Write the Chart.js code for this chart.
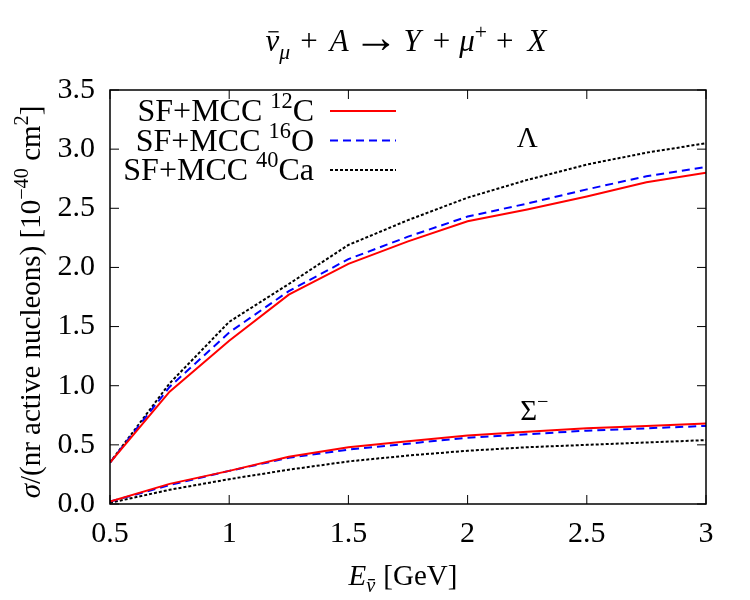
<!DOCTYPE html>
<html>
<head>
<meta charset="utf-8">
<script src="https://cdn.jsdelivr.net/npm/chart.js@4.4.1/dist/chart.umd.min.js"></script>
<style>
  body { margin: 0; background: #fff; }
</style>
</head>
<body>
<canvas id="chart" width="750" height="600"></canvas>
<script>
'use strict';

var FONT = '"Liberation Serif", "DejaVu Serif", serif';

// energies (GeV)
var energy = [0.5, 0.75, 1.0, 1.25, 1.5, 1.75, 2.0, 2.25, 2.5, 2.75, 3.0];

// Lambda production
var lambdaC = [0.35, 0.95, 1.38, 1.77, 2.03, 2.22, 2.39, 2.49, 2.60, 2.72, 2.80];
var lambdaO = [0.35, 0.99, 1.45, 1.80, 2.07, 2.26, 2.43, 2.54, 2.66, 2.77, 2.85];
var lambdaCa = [0.35, 1.02, 1.54, 1.86, 2.19, 2.40, 2.59, 2.74, 2.87, 2.97, 3.05];

// Sigma- production
var sigmaC = [0.02, 0.17, 0.28, 0.40, 0.48, 0.53, 0.58, 0.61, 0.64, 0.66, 0.68];
var sigmaO = [0.02, 0.16, 0.28, 0.39, 0.46, 0.51, 0.56, 0.59, 0.62, 0.64, 0.66];
var sigmaCa = [0.01, 0.12, 0.21, 0.29, 0.36, 0.41, 0.45, 0.48, 0.50, 0.52, 0.54];

var xTicks = [0.5, 1, 1.5, 2, 2.5, 3];
var yTicks = [0, 0.5, 1, 1.5, 2, 2.5, 3, 3.5];

var styles = {
  C: { color: '#ff0000', dash: [] },
  O: { color: '#0000ff', dash: [8, 5] },
  Ca: { color: '#000000', dash: [3, 2] }
};

function pts(ys) {
  return ys.map(function(v, i) { return { x: energy[i], y: v }; });
}

function ds(ys, key) {
  return {
    data: pts(ys),
    borderColor: styles[key].color,
    borderDash: styles[key].dash,
    borderWidth: 2,
    pointRadius: 0,
    fill: false,
    tension: 0
  };
}

// draw text made of parts: {t, i: italic, sup, sub, bar, gap, k: size factor}
function partSize(p, size) {
  var s = (p.sup || p.sub) ? size * 0.7 : size;
  return s * (p.k || 1);
}

function partFont(p, size) {
  return (p.i ? 'italic ' : '') + partSize(p, size) + 'px ' + FONT;
}

function richWidth(ctx, parts, size) {
  var w = 0;
  parts.forEach(function(p) {
    if (p.gap) { w += p.gap; return; }
    ctx.font = partFont(p, size);
    w += ctx.measureText(p.t).width;
  });
  return w;
}

function drawRich(ctx, parts, x, y, align, size) {
  var w = richWidth(ctx, parts, size);
  var cx = align === 'center' ? x - w / 2 : (align === 'right' ? x - w : x);
  ctx.textBaseline = 'alphabetic';
  ctx.textAlign = 'left';
  ctx.fillStyle = '#000';
  parts.forEach(function(p) {
    if (p.gap) { cx += p.gap; return; }
    var s = partSize(p, size);
    var dy = p.sup ? -size * 0.4 : (p.sub ? size * 0.25 : 0);
    if (p.dy) dy += p.dy;
    ctx.font = partFont(p, size);
    var tw = ctx.measureText(p.t).width;
    ctx.fillText(p.t, cx, y + dy);
    if (p.bar) {
      ctx.save();
      ctx.strokeStyle = '#000';
      ctx.lineWidth = 1.3;
      ctx.beginPath();
      ctx.moveTo(cx + tw * 0.2, y + dy - s * 0.62);
      ctx.lineTo(cx + tw * 0.95, y + dy - s * 0.62);
      ctx.stroke();
      ctx.restore();
    }
    cx += tw;
  });
}

var legendRows = [
  { key: 'C', parts: [{ t: 'SF+MCC ' }, { t: '12', sup: 1 }, { t: 'C' }] },
  { key: 'O', parts: [{ t: 'SF+MCC ' }, { t: '16', sup: 1 }, { t: 'O' }] },
  { key: 'Ca', parts: [{ t: 'SF+MCC ' }, { t: '40', sup: 1 }, { t: 'Ca' }] }
];

var decor = {
  id: 'decor',
  afterDraw: function(chart) {
    var ctx = chart.ctx;
    var a = chart.chartArea;
    var xs = chart.scales.x, ys = chart.scales.y;
    ctx.save();

    // border
    ctx.strokeStyle = '#000';
    ctx.lineWidth = 1.5;
    ctx.setLineDash([]);
    ctx.strokeRect(a.left, a.top, a.right - a.left, a.bottom - a.top);

    // inward ticks
    ctx.lineWidth = 1;
    ctx.beginPath();
    xTicks.forEach(function(v) {
      var px = xs.getPixelForValue(v);
      ctx.moveTo(px, a.bottom); ctx.lineTo(px, a.bottom - 9);
      ctx.moveTo(px, a.top); ctx.lineTo(px, a.top + 9);
    });
    yTicks.forEach(function(v) {
      var py = ys.getPixelForValue(v);
      ctx.moveTo(a.left, py); ctx.lineTo(a.left + 9, py);
      ctx.moveTo(a.right, py); ctx.lineTo(a.right - 9, py);
    });
    ctx.stroke();

    // legend
    legendRows.forEach(function(r, i) {
      var y = 111 + i * 29.5;
      drawRich(ctx, r.parts, 314, y + 10, 'right', 32);
      ctx.strokeStyle = styles[r.key].color;
      ctx.setLineDash(styles[r.key].dash);
      ctx.lineWidth = 2;
      ctx.beginPath();
      ctx.moveTo(330, y);
      ctx.lineTo(396, y);
      ctx.stroke();
    });
    ctx.setLineDash([]);

    // curve labels
    drawRich(ctx, [{ t: 'Λ' }], xs.getPixelForValue(2.25), ys.getPixelForValue(3.02), 'center', 29);
    drawRich(ctx, [{ t: 'Σ' }, { t: '−', sup: 1 }], xs.getPixelForValue(2.28), ys.getPixelForValue(0.71), 'center', 29);

    // title
    drawRich(ctx, [
      { t: 'ν', i: 1, bar: 1 }, { t: 'μ', i: 1, sub: 1 }, { gap: 10 }, { t: '+' }, { gap: 12 },
      { t: 'A', i: 1 }, { gap: 5 }, { t: '→', k: 1.45, dy: 1 }, { gap: 5 }, { t: 'Y', i: 1 }, { gap: 12 },
      { t: '+' }, { gap: 9 }, { t: 'μ', i: 1 }, { t: '+', sup: 1 }, { gap: 9 }, { t: '+' },
      { gap: 14 }, { t: 'X', i: 1 }
    ], 406, 51, 'center', 31);

    // x title
    drawRich(ctx, [{ t: 'E', i: 1 }, { t: 'ν', i: 1, sub: 1, bar: 1 }, { gap: 8 }, { t: '[GeV]' }], 403, 585, 'center', 29);

    // y title
    ctx.translate(40, 302);
    ctx.rotate(-Math.PI / 2);
    drawRich(ctx, [
      { t: 'σ', i: 1 }, { t: '/(nr active nucleons) [10' }, { t: '−40', sup: 1 },
      { t: ' cm' }, { t: '2', sup: 1 }, { t: ']' }
    ], 0, 0, 'center', 29);

    ctx.restore();
  }
};

new Chart(document.getElementById('chart'), {
  type: 'line',
  data: {
    datasets: [
      ds(lambdaC, 'C'), ds(lambdaO, 'O'), ds(lambdaCa, 'Ca'),
      ds(sigmaC, 'C'), ds(sigmaO, 'O'), ds(sigmaCa, 'Ca')
    ]
  },
  options: {
    responsive: false,
    animation: false,
    layout: { padding: { top: 90, right: 44, left: 0, bottom: 0 } },
    plugins: {
      legend: { display: false },
      tooltip: { enabled: false }
    },
    scales: {
      x: {
        type: 'linear',
        min: 0.5,
        max: 3,
        afterBuildTicks: function(s) { s.ticks = xTicks.map(function(v) { return { value: v }; }); },
        afterFit: function(s) { s.height = 96; },
        grid: { display: false, drawTicks: false },
        border: { display: false },
        ticks: {
          color: '#000',
          padding: 12,
          font: { family: FONT, size: 30 },
          maxRotation: 0,
          callback: function(v) { return String(v); }
        }
      },
      y: {
        type: 'linear',
        min: 0,
        max: 3.5,
        afterBuildTicks: function(s) { s.ticks = yTicks.map(function(v) { return { value: v }; }); },
        afterFit: function(s) { s.width = 110; },
        grid: { display: false, drawTicks: false },
        border: { display: false },
        ticks: {
          color: '#000',
          padding: 15,
          font: { family: FONT, size: 30 },
          callback: function(v) { return v.toFixed(1); }
        }
      }
    }
  },
  plugins: [decor]
});
</script>
</body>
</html>
